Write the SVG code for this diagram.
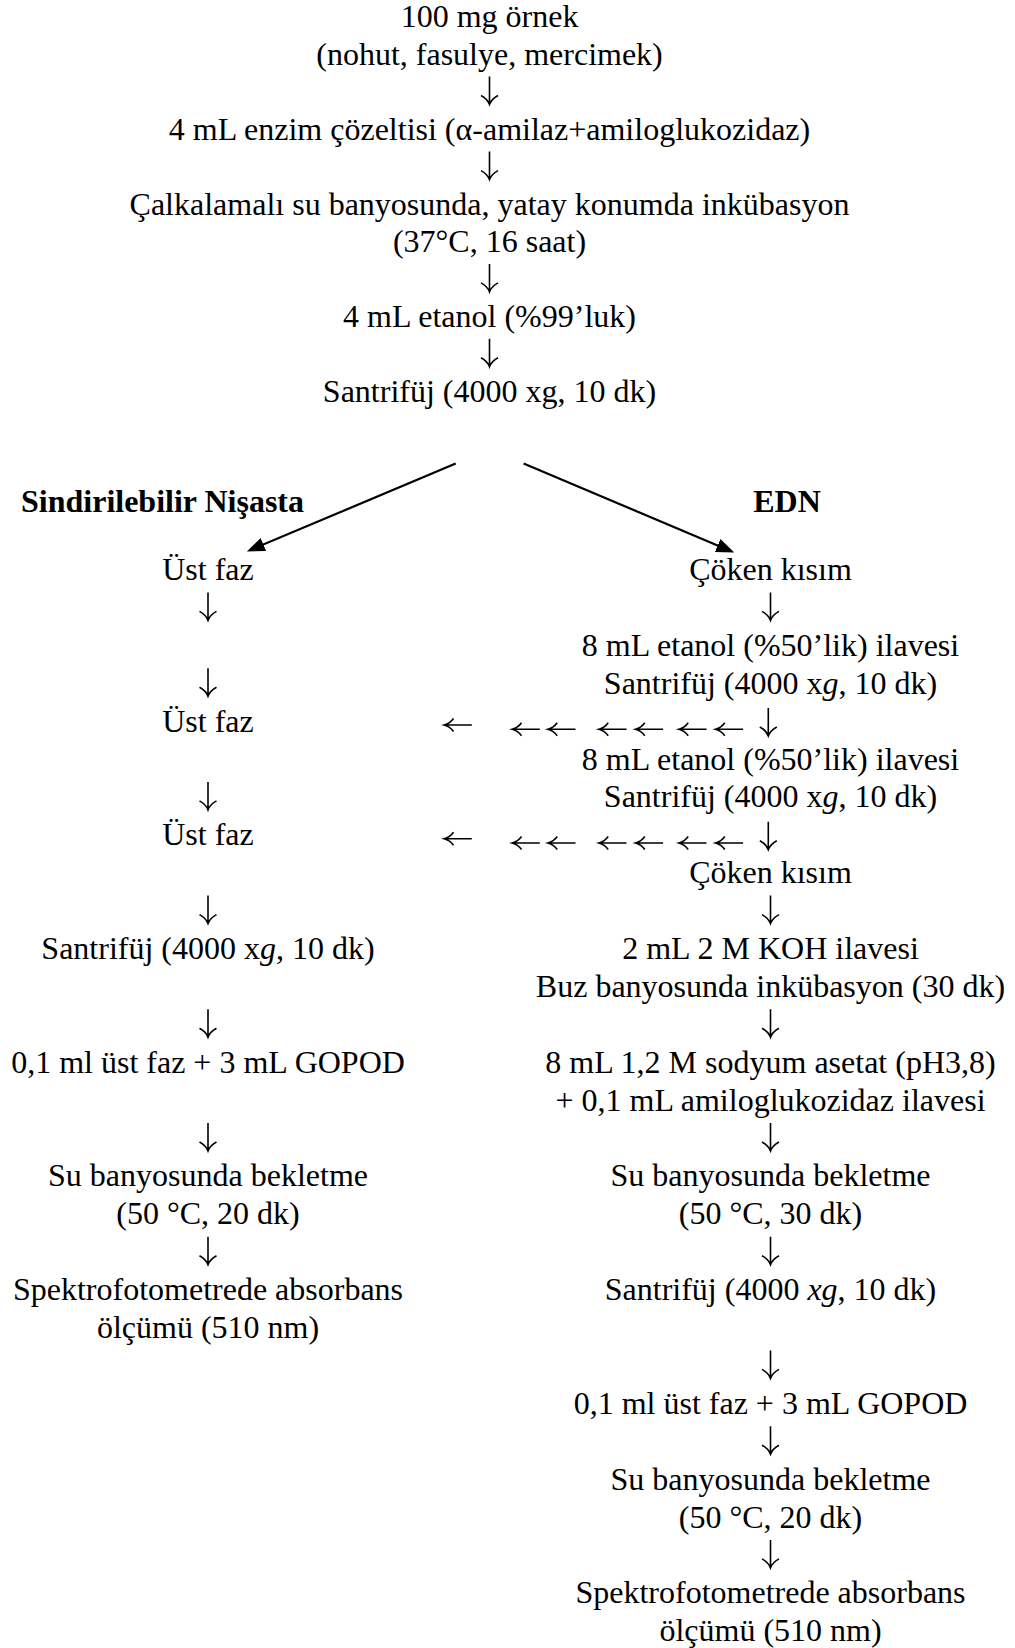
<svg xmlns="http://www.w3.org/2000/svg" width="1015" height="1648" viewBox="0 0 1015 1648">
<style>
text{font-family:"Liberation Serif","Times New Roman",serif;font-size:32px;fill:#000;text-anchor:middle}
.b{font-weight:bold}
.s{text-anchor:start}
.i{font-style:italic}
.ln{stroke:#000;stroke-width:2.2;fill:none}
.ar{stroke:#000;stroke-width:1.6;fill:none;stroke-linejoin:miter}
</style>
<defs>
<marker id="ah" viewBox="0 0 18 14" markerWidth="18" markerHeight="14" refX="14" refY="7" orient="auto" markerUnits="userSpaceOnUse">
<path d="M0,0 L18,7 L0,14 z" fill="#000"/>
</marker>
<path id="dn" class="ar" d="M0,-25.5 V2.5 M-8.5,-6.5 Q-2,-3 0,2.5 Q2,-3 8.5,-6.5"/>
<path id="lf" class="ar" d="M13.8,0 H-13.3 M-4.5,-6.5 Q-8,-1.5 -13.8,0 Q-8,1.5 -4.5,6.5"/>
</defs>
<rect width="1015" height="1648" fill="#fff"/>

<g id="connectors">
<line class="ln" x1="455.7" y1="463.6" x2="250.5" y2="549.9" marker-end="url(#ah)"/>
<line class="ln" x1="523.6" y1="463.6" x2="730.6" y2="550.9" marker-end="url(#ah)"/>
<use href="#dn" x="489.5" y="102"/>
<use href="#dn" x="489.5" y="177.1"/>
<use href="#dn" x="489.5" y="289.4"/>
<use href="#dn" x="489.5" y="364.3"/>
<use href="#dn" x="208" y="617.9"/>
<use href="#dn" x="208" y="693.7"/>
<use href="#dn" x="208" y="807.4"/>
<use href="#dn" x="208" y="921.1"/>
<use href="#dn" x="208" y="1034.8"/>
<use href="#dn" x="208" y="1148.5"/>
<use href="#dn" x="208" y="1262.2"/>
<use href="#dn" x="770.5" y="617.9"/>
<use href="#dn" x="768.3" y="733.5"/>
<use href="#dn" x="768.3" y="847.2"/>
<use href="#dn" x="770.5" y="921.1"/>
<use href="#dn" x="770.5" y="1034.8"/>
<use href="#dn" x="770.5" y="1148.5"/>
<use href="#dn" x="770.5" y="1262.2"/>
<use href="#dn" x="770.5" y="1375.9"/>
<use href="#dn" x="770.5" y="1451.7"/>
<use href="#dn" x="770.5" y="1565.4"/>
<use href="#lf" x="458" y="725"/>
<use href="#lf" x="526" y="729.3"/>
<use href="#lf" x="561.7" y="729.3"/>
<use href="#lf" x="612.7" y="729.3"/>
<use href="#lf" x="649.3" y="729.3"/>
<use href="#lf" x="692.7" y="729.3"/>
<use href="#lf" x="729.3" y="729.3"/>
<use href="#lf" x="458" y="838.7"/>
<use href="#lf" x="526" y="843"/>
<use href="#lf" x="561.7" y="843"/>
<use href="#lf" x="612.7" y="843"/>
<use href="#lf" x="649.3" y="843"/>
<use href="#lf" x="692.7" y="843"/>
<use href="#lf" x="729.3" y="843"/>
</g>

<g id="n-ornek"><text x="489.5" y="27.3">100 mg örnek</text><text x="489.5" y="64.7">(nohut, fasulye, mercimek)</text></g>
<g id="n-enzim"><text x="489.5" y="139.6">4 mL enzim çözeltisi (α-amilaz+amiloglukozidaz)</text></g>
<g id="n-inkubasyon"><text x="489.5" y="214.5">Çalkalamalı su banyosunda, yatay konumda inkübasyon</text><text x="489.5" y="251.9">(37°C, 16 saat)</text></g>
<g id="n-etanol99"><text x="489.5" y="326.8">4 mL etanol (%99’luk)</text></g>
<g id="n-santrifuj0"><text x="489.5" y="401.7">Santrifüj (4000 xg, 10 dk)</text></g>

<g id="h-sindirilebilir"><text class="b s" x="21" y="511.7">Sindirilebilir Nişasta</text></g>
<g id="h-edn"><text class="b" x="787" y="511.7">EDN</text></g>

<g id="l-ustfaz1"><text x="208" y="580">Üst faz</text></g>
<g id="l-ustfaz2"><text x="208" y="731.6">Üst faz</text></g>
<g id="l-ustfaz3"><text x="208" y="845.3">Üst faz</text></g>
<g id="l-santrifuj"><text x="208" y="959">Santrifüj (4000 x<tspan class="i">g</tspan>, 10 dk)</text></g>
<g id="l-gopod"><text x="208" y="1072.7">0,1 ml üst faz + 3 mL GOPOD</text></g>
<g id="l-su"><text x="208" y="1186.4">Su banyosunda bekletme</text><text x="208" y="1224.3">(50 °C, 20 dk)</text></g>
<g id="l-spektro"><text x="208" y="1300.1">Spektrofotometrede absorbans</text><text x="208" y="1338">ölçümü (510 nm)</text></g>

<g id="r-coken1"><text x="770.5" y="580">Çöken kısım</text></g>
<g id="r-etanol1"><text x="770.5" y="655.8">8 mL etanol (%50’lik) ilavesi</text><text x="770.5" y="693.7">Santrifüj (4000 x<tspan class="i">g</tspan>, 10 dk)</text></g>
<g id="r-etanol2"><text x="770.5" y="769.5">8 mL etanol (%50’lik) ilavesi</text><text x="770.5" y="807.4">Santrifüj (4000 x<tspan class="i">g</tspan>, 10 dk)</text></g>
<g id="r-coken2"><text x="770.5" y="883.2">Çöken kısım</text></g>
<g id="r-koh"><text x="770.5" y="959">2 mL 2 M KOH ilavesi</text><text x="770.5" y="996.9">Buz banyosunda inkübasyon (30 dk)</text></g>
<g id="r-asetat"><text x="770.5" y="1072.7">8 mL 1,2 M sodyum asetat (pH3,8)</text><text x="770.5" y="1110.6">+ 0,1 mL amiloglukozidaz ilavesi</text></g>
<g id="r-su1"><text x="770.5" y="1186.4">Su banyosunda bekletme</text><text x="770.5" y="1224.3">(50 °C, 30 dk)</text></g>
<g id="r-santrifuj"><text x="770.5" y="1300.1">Santrifüj (4000 <tspan class="i">xg</tspan>, 10 dk)</text></g>
<g id="r-gopod"><text x="770.5" y="1413.8">0,1 ml üst faz + 3 mL GOPOD</text></g>
<g id="r-su2"><text x="770.5" y="1489.6">Su banyosunda bekletme</text><text x="770.5" y="1527.5">(50 °C, 20 dk)</text></g>
<g id="r-spektro"><text x="770.5" y="1603.3">Spektrofotometrede absorbans</text><text x="770.5" y="1641.2">ölçümü (510 nm)</text></g>
</svg>
